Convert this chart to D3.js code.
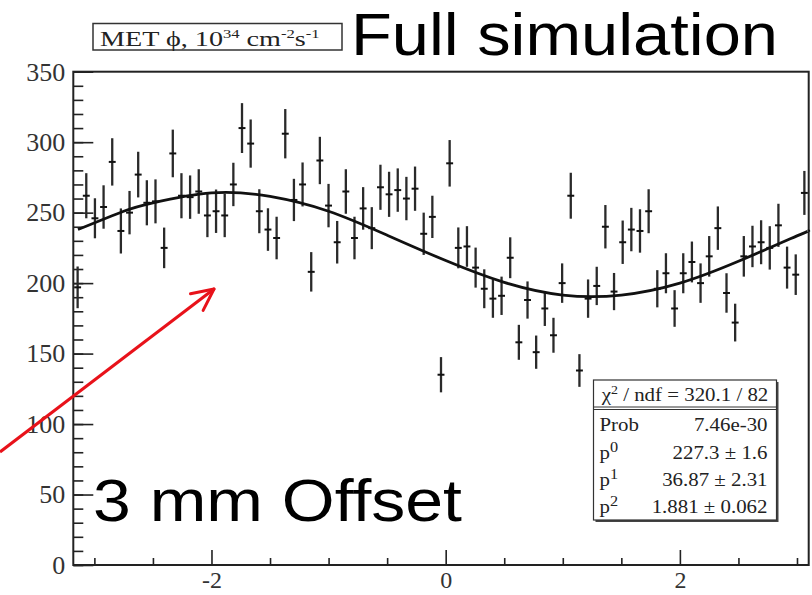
<!DOCTYPE html>
<html>
<head>
<meta charset="utf-8">
<script src="https://cdn.jsdelivr.net/npm/d3@7"></script>
<style>
body { margin: 0; background: #fff; }
</style>
</head>
<body>
<div id="chart"></div>
<script>
// histogram range (phi) and bin contents
var phiMin = -3.18, phiMax = 3.10;

var counts = [197, 262, 246, 254, 286, 237, 250, 277, 257, 258,
    225, 292, 262, 261, 265, 248, 251, 248, 270, 310,
    299, 251, 238, 232, 306, 259, 270, 208, 287, 255,
    229, 265, 232, 253, 239, 268, 263, 266, 260, 267,
    235, 247, 135, 285, 225, 226, 211, 196, 189, 191,
    218, 158, 188, 151, 182, 163, 200, 262, 138, 189,
    198, 240, 194, 229, 238, 237, 251, 196, 207, 182,
    207, 215, 200, 219, 239, 193, 172, 219, 226, 229,
    225, 241, 211, 206, 264];

var errors = [14.8, 16.0, 14.2, 15.4, 16.8, 16.0, 15.4, 16.2, 16.0, 15.6,
    14.4, 16.9, 16.0, 15.4, 15.8, 15.4, 15.4, 15.4, 15.4, 17.7,
    17.1, 15.6, 15.1, 15.1, 17.5, 15.0, 15.6, 14.0, 16.8, 15.4,
    15.1, 15.8, 15.1, 15.1, 14.9, 16.0, 16.0, 15.4, 15.4, 15.7,
    15.0, 15.0, 12.5, 16.5, 14.5, 14.4, 14.2, 13.8, 13.6, 13.6,
    14.5, 12.4, 13.2, 11.8, 12.4, 12.4, 14.0, 16.3, 11.6, 13.6,
    13.6, 15.4, 13.2, 15.4, 15.4, 15.4, 15.6, 13.2, 14.2, 13.0,
    14.2, 14.5, 14.0, 14.4, 15.4, 14.0, 13.4, 14.4, 14.7, 15.6,
    15.4, 15.3, 14.9, 14.4, 15.6];

// fit curve, sampled from the plot
var fitPhi = [-3.14, -2.75, -2.5, -2.0, -1.5, -1.0, -0.5, 0, 0.5, 1.0, 1.5, 2.0, 2.5, 3.0, 3.1];
var fitVal = [238, 251, 257, 264, 261.5, 251, 234, 216, 200.5, 191.5, 191.5, 200, 215.5, 233.5, 237];

var yMajor = [0, 50, 100, 150, 200, 250, 300, 350];
var yMinor = d3.range(0, 351, 10);
var xMajor = [-2, 0, 2];
var xMinor = [-3, -2.5, -1.5, -1, -0.5, 0.5, 1, 1.5, 2.5, 3];

var statNames = ["Prob", "p|0", "p|1", "p|2"];
var statValues = ["7.46e-30", "227.3 \u00b1 1.6", "36.87 \u00b1 2.31", "1.881 \u00b1 0.062"];

var W = 812, H = 595;
var padL = 73.3, padR = 808.7, padT = 71.7, padB = 565;
var serif = "'Liberation Serif', 'Times New Roman', serif";
var sans = "'Liberation Sans', Arial, sans-serif";

var svg = d3.select("#chart").append("svg")
    .attr("width", W)
    .attr("height", H);

var x = d3.scaleLinear().domain([phiMin, phiMax]).range([padL, padR]);
var y = d3.scaleLinear().domain([0, 350]).range([padB, padT]);

var binW = (phiMax - phiMin) / counts.length;

// frame
svg.append("rect")
    .attr("x", padL).attr("y", padT)
    .attr("width", padR - padL).attr("height", padB - padT)
    .attr("fill", "none").attr("stroke", "#222").attr("stroke-width", 2);

// y axis
svg.append("g")
    .attr("transform", "translate(" + padL + ",0)")
    .call(d3.axisLeft(y).tickValues(yMinor).tickSize(-10).tickSizeOuter(0).tickFormat(""))
    .call(function(g) { g.select(".domain").remove(); });
var yAx = svg.append("g")
    .attr("transform", "translate(" + padL + ",0)")
    .call(d3.axisLeft(y).tickValues(yMajor).tickSize(-20).tickSizeOuter(0).tickPadding(8)
        .tickFormat(function(d) { return String(d); }))
    .call(function(g) { g.select(".domain").remove(); });

// x axis
svg.append("g")
    .attr("transform", "translate(0," + padB + ")")
    .call(d3.axisBottom(x).tickValues(xMinor).tickSize(-7).tickSizeOuter(0).tickFormat(""))
    .call(function(g) { g.select(".domain").remove(); });
var xAx = svg.append("g")
    .attr("transform", "translate(0," + padB + ")")
    .call(d3.axisBottom(x).tickValues(xMajor).tickSize(-15).tickSizeOuter(0).tickPadding(6)
        .tickFormat(function(d) { return String(d); }))
    .call(function(g) { g.select(".domain").remove(); });

svg.selectAll(".tick line").attr("stroke", "#222").attr("stroke-width", 1.6);
yAx.selectAll(".tick text")
    .attr("font-family", serif)
    .attr("font-size", 26)
    .attr("fill", "#333");
xAx.selectAll(".tick text")
    .attr("font-family", serif)
    .attr("font-size", 24)
    .attr("fill", "#333");

// data points with error bars
var pts = svg.append("g");
pts.selectAll("line.ey")
    .data(counts)
    .enter()
    .append("line")
    .attr("class", "ey")
    .attr("x1", function(d, i) { return x(phiMin + (i + 0.5) * binW); })
    .attr("x2", function(d, i) { return x(phiMin + (i + 0.5) * binW); })
    .attr("y1", function(d, i) { return y(d - errors[i]); })
    .attr("y2", function(d, i) { return y(d + errors[i]); })
    .attr("stroke", "#2a2a2a")
    .attr("stroke-width", 2.3);
pts.selectAll("line.ex")
    .data(counts)
    .enter()
    .append("line")
    .attr("class", "ex")
    .attr("x1", function(d, i) { return x(phiMin + (i + 0.1) * binW); })
    .attr("x2", function(d, i) { return x(phiMin + (i + 0.9) * binW); })
    .attr("y1", function(d) { return y(d); })
    .attr("y2", function(d) { return y(d); })
    .attr("stroke", "#111")
    .attr("stroke-width", 2);

// fit curve
var line = d3.line()
    .x(function(d, i) { return x(fitPhi[i]); })
    .y(function(d) { return y(d); })
    .curve(d3.curveNatural);
svg.append("path")
    .attr("d", line(fitVal))
    .attr("fill", "none")
    .attr("stroke", "#111")
    .attr("stroke-width", 2.8);

// title box
svg.append("rect")
    .attr("x", 93).attr("y", 23.5).attr("width", 249).attr("height", 26.5)
    .attr("fill", "#fff").attr("stroke", "#333").attr("stroke-width", 1.5);
var tt = svg.append("g")
    .attr("transform", "translate(100,45.5) scale(1.28,1)")
    .append("text")
    .attr("font-family", serif).attr("font-size", 22).attr("fill", "#222");
tt.append("tspan").text("MET \u03d5, 10");
tt.append("tspan").attr("dy", -8).attr("font-size", 13).text("34");
tt.append("tspan").attr("dy", 8).text(" cm");
tt.append("tspan").attr("dy", -8).attr("font-size", 13).text("-2");
tt.append("tspan").attr("dy", 8).text("s");
tt.append("tspan").attr("dy", -8).attr("font-size", 13).text("-1");

svg.append("text")
    .attr("x", 351).attr("y", 55)
    .attr("font-family", sans).attr("font-size", 60)
    .attr("textLength", 427).attr("lengthAdjust", "spacingAndGlyphs")
    .attr("fill", "#000")
    .text("Full simulation");

svg.append("text")
    .attr("x", 93).attr("y", 521)
    .attr("font-family", sans).attr("font-size", 60)
    .attr("textLength", 369).attr("lengthAdjust", "spacingAndGlyphs")
    .attr("fill", "#000")
    .text("3 mm Offset");

// stats box
var bx = 593.5, by = 380, bw = 183, bh = 140;
svg.append("rect")
    .attr("x", bx + 2).attr("y", by + 2).attr("width", bw).attr("height", bh)
    .attr("fill", "#444");
svg.append("rect")
    .attr("x", bx).attr("y", by).attr("width", bw).attr("height", bh)
    .attr("fill", "#fff").attr("stroke", "#333").attr("stroke-width", 1.2);
svg.append("line")
    .attr("x1", bx).attr("x2", bx + bw).attr("y1", 407).attr("y2", 407)
    .attr("stroke", "#333").attr("stroke-width", 1);
svg.append("line")
    .attr("x1", bx).attr("x2", bx + bw).attr("y1", 409.5).attr("y2", 409.5)
    .attr("stroke", "#333").attr("stroke-width", 1);

var sx = 1.16;
var hdr = svg.append("g")
    .attr("transform", "translate(" + (bx + bw / 2) + ",401) scale(" + sx + ",1)")
    .append("text")
    .attr("text-anchor", "middle")
    .attr("font-family", serif).attr("font-size", 18).attr("fill", "#222");
hdr.append("tspan").text("\u03c7");
hdr.append("tspan").attr("dy", -7).attr("font-size", 12).text("2");
hdr.append("tspan").attr("dy", 7).text(" / ndf = 320.1 / 82");

var rowY = [431, 459, 486, 513];
statNames.forEach(function(n, i) {
    var parts = n.split("|");
    var t = svg.append("g")
        .attr("transform", "translate(" + (bx + 6) + "," + rowY[i] + ") scale(" + sx + ",1)")
        .append("text")
        .attr("font-family", serif).attr("font-size", 18).attr("fill", "#222");
    t.append("tspan").text(parts[0]);
    if (parts[1]) t.append("tspan").attr("dy", -7).attr("font-size", 14).text(parts[1]);
    svg.append("g")
        .attr("transform", "translate(" + (bx + bw - 9) + "," + rowY[i] + ") scale(" + sx + ",1)")
        .append("text")
        .attr("text-anchor", "end")
        .attr("font-family", serif).attr("font-size", 18).attr("fill", "#222")
        .text(statValues[i]);
});

// red arrow
var tip = [214, 289], tail = [0, 452];
svg.append("line")
    .attr("x1", tail[0]).attr("y1", tail[1]).attr("x2", tip[0]).attr("y2", tip[1])
    .attr("stroke", "#e8121a").attr("stroke-width", 3);
var ang = Math.atan2(tip[1] - tail[1], tip[0] - tail[0]);
[0.45, -0.45].forEach(function(a) {
    svg.append("line")
        .attr("x1", tip[0]).attr("y1", tip[1])
        .attr("x2", tip[0] - 24 * Math.cos(ang + a))
        .attr("y2", tip[1] - 24 * Math.sin(ang + a))
        .attr("stroke", "#e8121a").attr("stroke-width", 3)
        .attr("stroke-linecap", "round");
});
</script>
</body>
</html>
